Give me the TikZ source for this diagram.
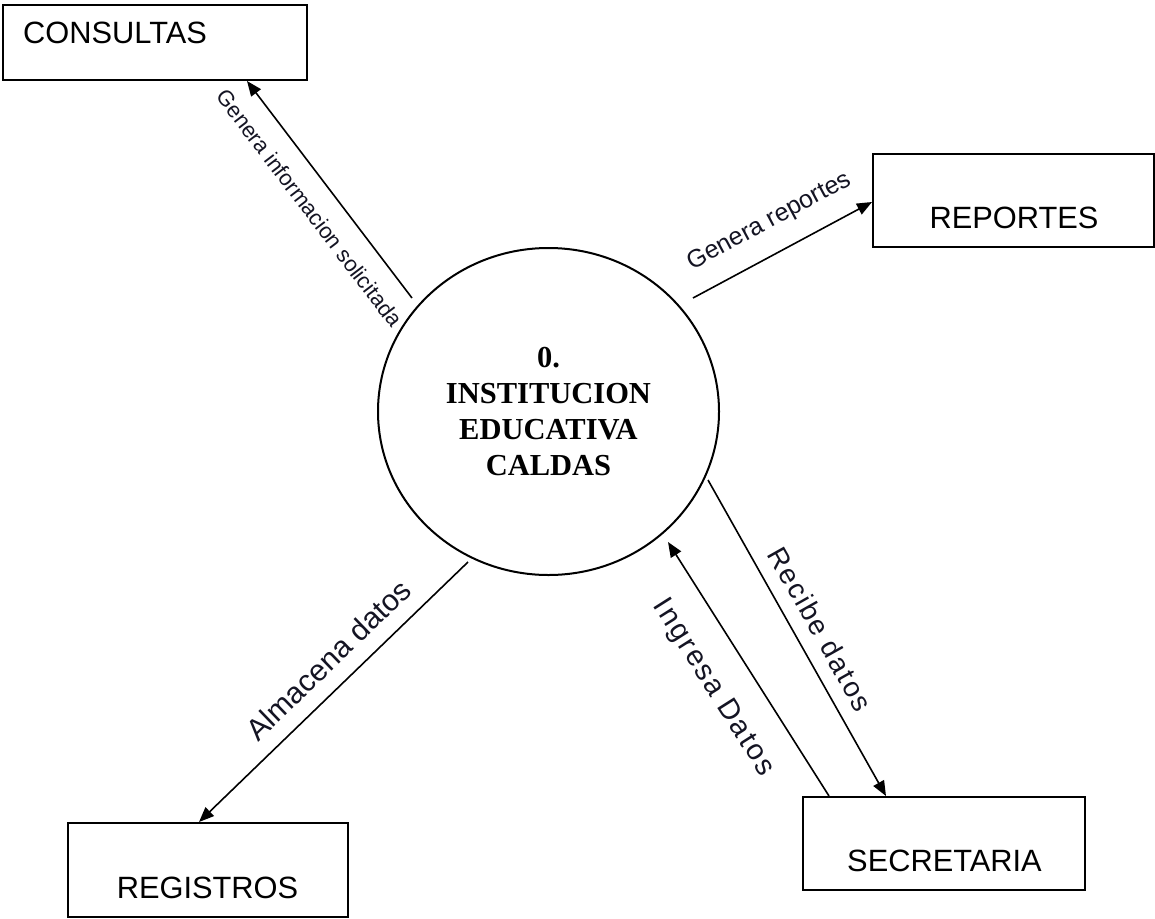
\documentclass[tikz,border=0pt]{standalone}
\usepackage{fontspec}
\usetikzlibrary{arrows.meta,shapes.geometric,calc}
\newfontfamily\arialf{Liberation Sans}
\newfontfamily\timesf{Liberation Serif}
\newfontfamily\spacedf[LetterSpace=7]{Liberation Sans}
\definecolor{labcol}{RGB}{20,20,35}
\begin{document}
\begin{tikzpicture}[x=1pt,y=-1pt,
  box/.style={draw, line width=2pt, rectangle, inner sep=0pt},
  boxtext/.style={font=\arialf\fontsize{30.8}{36}\selectfont, inner sep=0pt},
  flow/.style={line width=1.6pt, -{Triangle[length=15pt,width=12pt]}},
  lab/.style={text=labcol, inner sep=0pt, sloped, anchor=center},
]
\useasboundingbox (0,0) rectangle (1155,918);
\fill[white] (0,0) rectangle (1155,918);
% boxes
\node[box, minimum width=304pt, minimum height=75pt] (cons) at (155,42.5) {};
\node[boxtext, anchor=base west] (consT) at (23,43) {CONSULTAS};
\node[box, minimum width=281pt, minimum height=93pt] (rep) at (1013.5,200.5) {};
\node[boxtext, anchor=base] (repT) at (1014,228) {REPORTES};
\node[box, minimum width=280pt, minimum height=94pt] (reg) at (208,870) {};
\node[boxtext, anchor=base] (regT) at (207.5,898) {REGISTROS};
\node[box, minimum width=282pt, minimum height=93pt] (sec) at (944,843.5) {};
\node[boxtext, anchor=base] (secT) at (944.5,871) {SECRETARIA};
% process
\node[draw, ellipse, line width=2pt, minimum width=341pt, minimum height=327pt, inner sep=0pt, align=center,
      font=\timesf\bfseries\fontsize{30.5}{36}\selectfont] (circ) at (548.5,411.5) {0.\\INSTITUCION\\EDUCATIVA\\CALDAS};
% connector end points
\coordinate (s1) at ($(circ.center)+(-136.5,-113.5)$);
\coordinate (t1) at ($(cons.south west)+(245,0)$);
\coordinate (s2) at ($(circ.center)+(144.5,-113.5)$);
\coordinate (t2) at ($(rep.west)+(0,1.5)$);
\coordinate (s3) at ($(circ.center)+(-80.5,150.5)$);
\coordinate (t3) at ($(reg.north west)+(132,0)$);
\coordinate (s4) at ($(sec.north west)+(27,0)$);
\coordinate (t4) at ($(circ.center)+(119.5,130.5)$);
\coordinate (s5) at ($(circ.center)+(159.5,68.5)$);
\coordinate (t5) at ($(sec.north west)+(84,0)$);
% flows
\draw[flow] (s1) -- (t1) node[lab, pos=0.49, yshift=-27pt] (l1) {\arialf\fontsize{22}{26}\selectfont Genera informacion solicitada};
\draw[flow] (s2) -- (t2) node[lab, pos=0.51, yshift=31pt] (l2) {\arialf\fontsize{25}{29}\selectfont Genera reportes};
\draw[flow] (s3) -- (t3) node[lab, pos=0.45, yshift=27pt] (l3) {\arialf\fontsize{30}{34}\selectfont Almacena datos};
\draw[flow] (s4) -- (t4) node[lab, pos=0.51, yshift=-40pt] (l4) {\spacedf\fontsize{29}{34}\selectfont Ingresa Datos};
\draw[flow] (s5) -- (t5) node[lab, pos=0.51, yshift=25pt] (l5) {\spacedf\fontsize{28}{33}\selectfont Recibe datos};
\end{tikzpicture}
\end{document}
